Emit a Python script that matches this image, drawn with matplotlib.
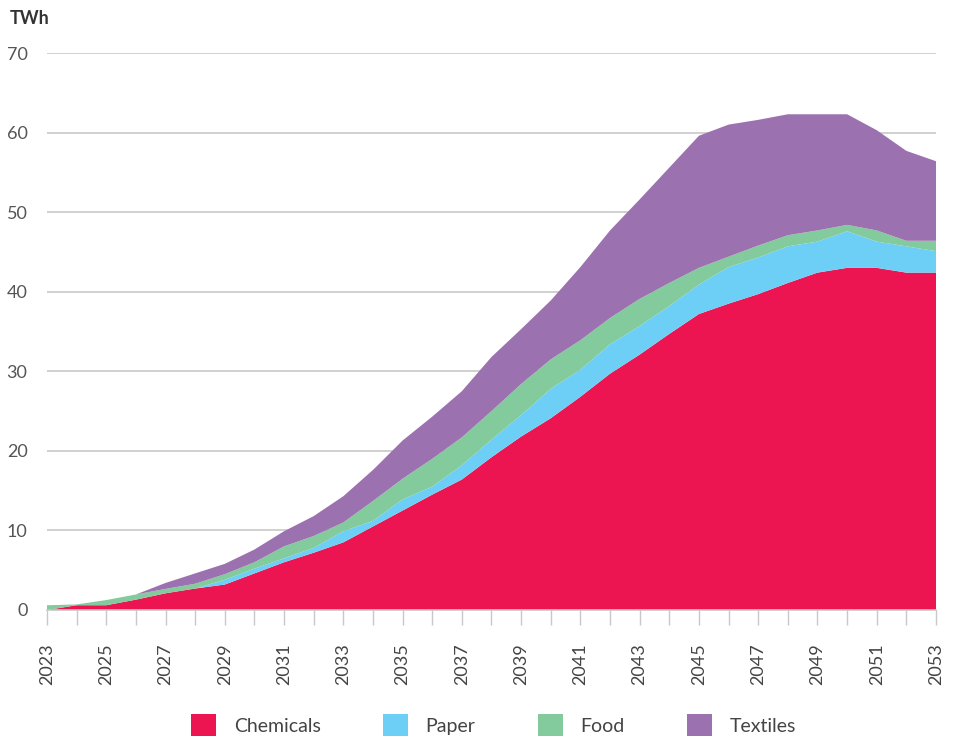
import numpy as np
import matplotlib
matplotlib.use('Agg')
import matplotlib.pyplot as plt

# values (TWh per year)
years = list(range(2023, 2054))

chemicals = [0.0, 0.6, 0.6, 1.3, 2.1, 2.7, 3.2, 4.6, 6.0, 7.2,
             8.5, 10.5, 12.5, 14.5, 16.4, 19.2, 21.8, 24.1, 26.8, 29.7,
             32.1, 34.7, 37.2, 38.5, 39.7, 41.1, 42.4, 43.0, 43.0, 42.4,
             42.4]
paper = [0.0, 0.0, 0.0, 0.0, 0.0, 0.0, 0.6, 0.6, 0.5, 0.6,
         1.4, 0.7, 1.4, 1.0, 1.8, 2.2, 2.7, 3.7, 3.4, 3.7,
         3.6, 3.5, 3.7, 4.6, 4.6, 4.6, 3.9, 4.6, 3.3, 3.3,
         2.7]
food = [0.6, 0.1, 0.65, 0.65, 0.55, 0.6, 0.7, 0.8, 1.5, 1.5,
        1.1, 2.5, 2.6, 3.5, 3.5, 3.6, 3.9, 3.7, 3.7, 3.3,
        3.4, 2.9, 2.1, 1.3, 1.5, 1.4, 1.4, 0.8, 1.4, 0.7,
        1.3]
textiles = [0.0, 0.0, 0.0, 0.0, 0.75, 1.3, 1.3, 1.6, 1.9, 2.5,
            3.3, 3.9, 4.8, 5.3, 5.8, 6.8, 6.9, 7.4, 9.2, 11.0,
            12.5, 14.5, 16.6, 16.6, 15.8, 15.2, 14.6, 13.9, 12.6, 11.3,
            10.0]

labels = ['Chemicals', 'Paper', 'Food', 'Textiles']
colors = ['#ED1551', '#6DCFF6', '#83CA9D', '#9C71AF']

yticks = [0, 10, 20, 30, 40, 50, 60, 70]

plt.rcParams['font.family'] = ['Lato', 'DejaVu Sans']

fig = plt.figure(figsize=(9.62, 7.39), dpi=100)
ax = fig.add_axes([47/962, 1 - 610/739, (936 - 47)/962, 557/739])

polys = ax.stackplot(years, chemicals, paper, food, textiles,
                     colors=colors, labels=labels, linewidth=0)

ax.set_xlim(years[0], years[-1])
ax.set_ylim(0, 70)

ax.set_yticks(yticks)
ax.set_yticklabels([str(t) for t in yticks], fontsize=13, color='#555555')
ax.yaxis.grid(True, color='#c8c8c8', linewidth=1.2)
ax.set_axisbelow(True)

ax.set_xticks(years)
ax.set_xticklabels([str(y) if (y - 2023) % 2 == 0 else '' for y in years],
                   rotation=90, fontsize=13, color='#444444')

ax.tick_params(axis='y', length=0, pad=14)
ax.tick_params(axis='x', length=11, width=1, color='#c8c8c8', pad=13)

for side in ['top', 'right', 'left']:
    ax.spines[side].set_visible(False)
ax.spines['bottom'].set_color('#c8c8c8')
ax.spines['bottom'].set_linewidth(1.2)
ax.spines['bottom'].set_zorder(5)

fig.text(10/962, 1 - 18/739, 'TWh', fontsize=13, fontweight='bold',
         color='#333333', va='center', ha='left')

leg = fig.legend(handles=polys, labels=labels, loc='center',
                 bbox_to_anchor=(0.513, 1 - 725/739), ncol=4, frameon=False,
                 fontsize=14, handlelength=1.3, handleheight=1.3,
                 columnspacing=3.2, handletextpad=0.9)
for t in leg.get_texts():
    t.set_color('#444444')

fig.savefig('out.png', dpi=100)
